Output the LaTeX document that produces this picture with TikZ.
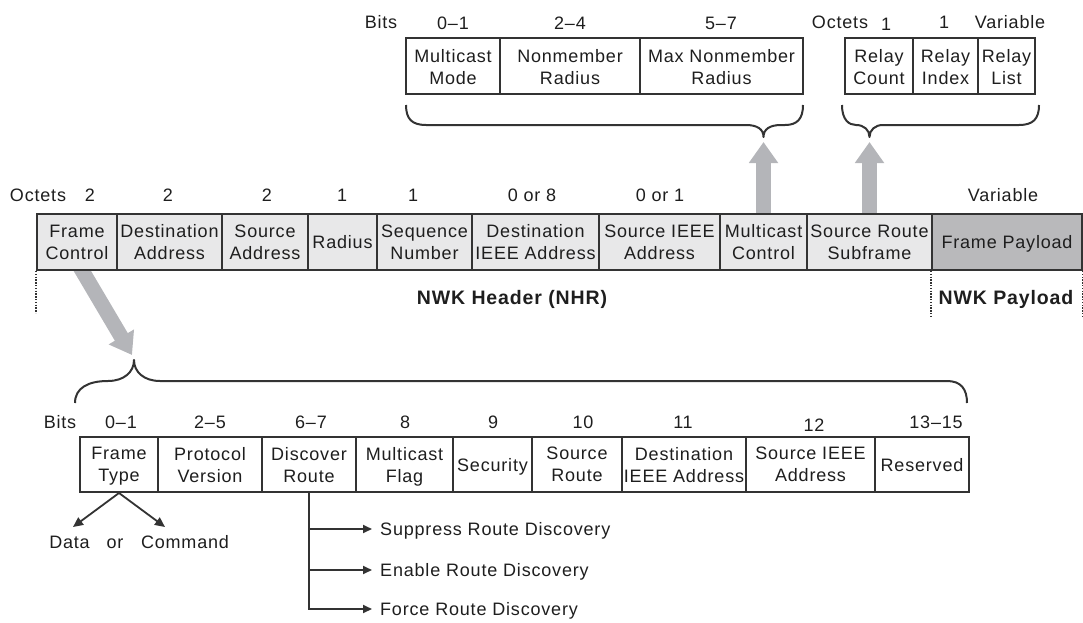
\documentclass[tikz,border=0pt]{standalone}
\usepackage{fontspec}
\newfontfamily\diagfont{Liberation Sans}[LetterSpace=4.5]
\usetikzlibrary{arrows.meta,calc}
\pgfdeclarelayer{background}
\pgfsetlayers{background,main}
\definecolor{inkc}{HTML}{1E1E1E}
\definecolor{edgec}{HTML}{333333}
\definecolor{hdrfill}{HTML}{E8E8E9}
\definecolor{payfill}{HTML}{B9B9BB}
\definecolor{shaftc}{HTML}{B4B5B9}

\begin{document}
\begin{tikzpicture}[x=1pt,y=-1pt,
  every node/.style={inner sep=0pt, text=inkc, text depth=0pt},
  txt/.style={font=\diagfont\fontsize{18}{22}\selectfont},
  boldtxt/.style={font=\diagfont\bfseries\fontsize{19.5}{22}\selectfont},
  cell/.style={txt, draw=edgec, line width=2pt, align=center, minimum height=56pt},
  hcell/.style={cell, fill=hdrfill},
  pcell/.style={cell, fill=payfill},
  wcell/.style={cell, fill=white},
  bracec/.style={draw=edgec, line width=2pt, line join=round},
  bigarrow/.style={draw=shaftc, line width=15pt, -{Triangle[width=28pt,length=21pt]}},
  smallarrow/.style={draw=edgec, line width=1.8pt, -{Triangle[width=8pt,length=9pt]}},
  guide/.style={draw=edgec, line width=1.5pt, dash pattern=on 1.3pt off 1.5pt},
]
\useasboundingbox (0,0) rectangle (1083,623);

% ---------- multicast control sub-fields ----------
\node[txt] (bitsA) at (381,22) {Bits};
\node[txt] (bA1) at (453,23) {0–1};
\node[txt] (bA2) at (570,23) {2–4};
\node[txt] (bA3) at (721,23) {5–7};
\node[wcell, minimum width=94pt]  (mm)  at (453,66.5)   {Multicast\\Mode};
\node[wcell, minimum width=140pt] (nr)  at (570,66.5)   {Nonmember\\Radius};
\node[wcell, minimum width=163pt] (mnr) at (721.5,66.5) {Max Nonmember\\Radius};

% ---------- source route subframe fields ----------
\node[txt] (octB) at (840,22) {Octets};
\node[txt] (oB1) at (886,24) {1};
\node[txt] (oB2) at (944,22) {1};
\node[txt] (oB3) at (1010,22) {Variable};
\node[wcell, minimum width=68pt] (rc) at (879,66.5)    {Relay\\Count};
\node[wcell, minimum width=65pt] (ri) at (945.5,66.5)  {Relay\\Index};
\node[wcell, minimum width=57pt] (rl) at (1006.5,66.5) {Relay\\List};

% braces under the two sub-field rows
\coordinate (tipA) at (763.5,137);
\coordinate (tipB) at (869.5,137);
\draw[bracec] (406,105) .. controls (406,119) and (412,125) .. (426,125)
  -- (746,125) .. controls (757,125) and (763.5,129) .. (tipA)
  .. controls (763.5,129) and (770,125) .. (781,125)
  -- (785,125) .. controls (797,125) and (803,119) .. (803,105);
\draw[bracec] (842,105) .. controls (842,120) and (849,125) .. (856,125)
  .. controls (864,125) and (869.5,130) .. (tipB)
  .. controls (869.5,130) and (875,125) .. (883,125)
  -- (1019,125) .. controls (1033,125) and (1039,119) .. (1039,105);

% ---------- NWK frame ----------
\node[txt] (octC) at (38,195) {Octets};
\node[txt] (oC1) at (90,195) {2};
\node[txt] (oC2) at (168,195) {2};
\node[txt] (oC3) at (267,195) {2};
\node[txt] (oC4) at (342,195) {1};
\node[txt] (oC5) at (413,195) {1};
\node[txt] (oC6) at (532,195) {0 or 8};
\node[txt] (oC7) at (660,195) {0 or 1};
\node[txt] (oC8) at (1003,195) {Variable};

\node[hcell, minimum width=80pt]  (fc)  at (77,242)    {Frame\\Control};
\node[hcell, minimum width=105pt] (da)  at (169.5,242) {Destination\\Address};
\node[hcell, minimum width=86pt]  (sa)  at (265,242)   {Source\\Address};
\node[hcell, minimum width=69pt]  (rad) at (342.5,242) {Radius};
\node[hcell, minimum width=95pt]  (seq) at (424.5,242) {Sequence\\Number};
\node[hcell, minimum width=127pt] (dia) at (535.5,242) {Destination\\IEEE Address};
\node[hcell, minimum width=121pt] (sia) at (659.5,242) {Source IEEE\\Address};
\node[hcell, minimum width=87pt]  (mc)  at (763.5,242) {Multicast\\Control};
\node[hcell, minimum width=125pt] (srs) at (869.5,242) {Source Route\\Subframe};
\node[pcell, minimum width=150pt] (fp)  at (1007,242)  {Frame Payload};

\draw[guide] (fc.south west) -- ++(0,42);
\draw[guide] (fp.south west) -- ++(0,47);
\draw[guide] (fp.south east) -- ++(0,47);
\node[boldtxt] (nhr) at (512,297) {NWK Header (NHR)};
\node[boldtxt] (npl) at (1006,297) {NWK Payload};

% ---------- frame control sub-fields ----------
\coordinate (tipC) at (134,360);
\draw[bracec] (75,403) .. controls (75,388) and (88,381) .. (108,381)
  .. controls (124,381) and (134,372) .. (tipC)
  .. controls (134,372) and (144,381) .. (160,381)
  -- (947,381) .. controls (961,381) and (967,389) .. (967,403);

\node[txt] (bitsD) at (60,422) {Bits};
\node[txt] (bD1) at (121,422) {0–1};
\node[txt] (bD2) at (210,422) {2–5};
\node[txt] (bD3) at (311,422) {6–7};
\node[txt] (bD4) at (405,422) {8};
\node[txt] (bD5) at (493,422) {9};
\node[txt] (bD6) at (583,422) {10};
\node[txt] (bD7) at (683,422) {11};
\node[txt] (bD8) at (814,425) {12};
\node[txt] (bD9) at (936,422) {13–15};

\node[wcell, minimum width=78pt,  minimum height=55pt] (ft)   at (119,464.5)   {Frame\\Type};
\node[wcell, minimum width=104pt, minimum height=55pt] (pv)   at (210,464.5)   {Protocol\\Version};
\node[wcell, minimum width=94pt,  minimum height=55pt] (dr)   at (309,464.5)   {Discover\\Route};
\node[wcell, minimum width=97pt,  minimum height=55pt] (mf)   at (404.5,464.5) {Multicast\\Flag};
\node[wcell, minimum width=79pt,  minimum height=55pt] (sec)  at (492.5,464.5) {Security};
\node[wcell, minimum width=90pt,  minimum height=55pt] (sr)   at (577,464.5)   {Source\\Route};
\node[wcell, minimum width=124pt, minimum height=55pt] (dia2) at (684,464.5)   {Destination\\IEEE Address};
\node[wcell, minimum width=129pt, minimum height=55pt] (sia2) at (810.5,464.5) {Source IEEE\\Address};
\node[wcell, minimum width=94pt,  minimum height=55pt] (res)  at (922,464.5)   {Reserved};

% frame type values
\coordinate (dataTip) at (73,527);
\coordinate (cmdTip) at (165,527);
\draw[smallarrow, -{Triangle[width=9pt,length=10pt]}] (ft.south) -- (dataTip);
\draw[smallarrow, -{Triangle[width=9pt,length=10pt]}] (ft.south) -- (cmdTip);
\node[txt] (data) at (69.5,542) {Data};
\node[txt, text height=12.9pt] (orw) at (115,542) {or};
\node[txt] (cmd)  at (185,542)  {Command};

% discover route values
\node[txt, anchor=west] (supp) at (380,529) {Suppress Route Discovery};
\node[txt, anchor=west] (enab) at (380,570) {Enable Route Discovery};
\node[txt, anchor=west] (forc) at (380,609) {Force Route Discovery};
\draw[smallarrow, shorten >=8pt] (dr.south) |- (supp.west);
\draw[smallarrow, shorten >=8pt] (dr.south) |- (enab.west);
\draw[smallarrow, shorten >=8pt] (dr.south) |- (forc.west);

% ---------- wide grey pointers ----------
\begin{pgfonlayer}{background}
  \draw[bigarrow] (mc.north) -- ($(tipA)+(0,5)$);
  \draw[bigarrow] (srs.north) -- ($(tipB)+(0,5)$);
  \draw[bigarrow] ($(fc.south)+(3,-4)$) -- ($(tipC)+(-2,-5)$);
\end{pgfonlayer}
\end{tikzpicture}
\end{document}
